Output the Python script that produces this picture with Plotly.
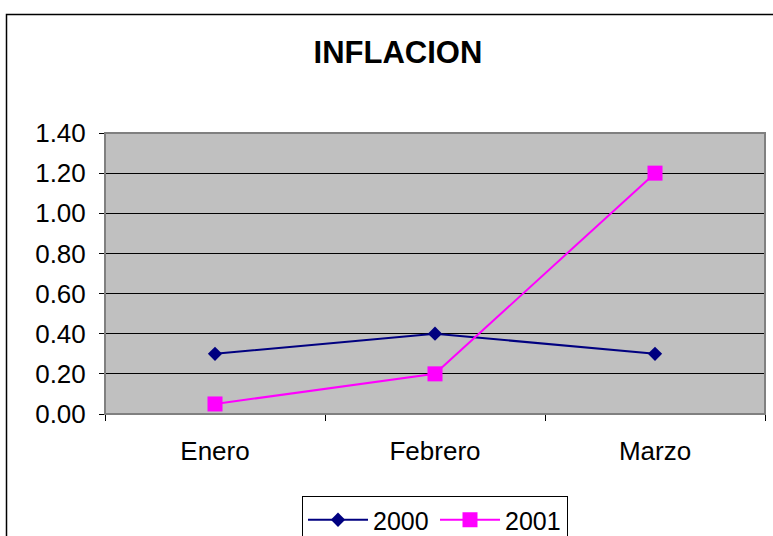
import plotly.graph_objects as go

categories = ["Enero", "Febrero", "Marzo"]
series_2000 = [0.30, 0.40, 0.30]
series_2001 = [0.05, 0.20, 1.20]
y_ticks = [0.0, 0.2, 0.4, 0.6, 0.8, 1.0, 1.2, 1.4]

W, H = 773, 536
L, R, T, B = 105, 765, 133, 414

def px_x(p):
    return (p - L) / (R - L)

def px_y(p):
    return (B - p) / (B - T)

font = "Liberation Sans, Arial, sans-serif"

fig = go.Figure()
fig.add_trace(go.Scatter(
    x=categories, y=series_2000, name="2000", mode="lines+markers",
    line=dict(color="#000080", width=2),
    marker=dict(symbol="diamond", size=11, color="#000080"),
))
fig.add_trace(go.Scatter(
    x=categories, y=series_2001, name="2001", mode="lines+markers",
    line=dict(color="#FF00FF", width=2),
    marker=dict(symbol="square", size=15, color="#FF00FF"),
))

fig.update_layout(
    width=W, height=H,
    margin=dict(l=L, r=W - R, t=T, b=H - B, pad=0, autoexpand=False),
    paper_bgcolor="white",
    plot_bgcolor="#C0C0C0",
    font=dict(family=font, size=26, color="black"),
    title=dict(text="<b>INFLACION</b>", font=dict(size=31, family=font),
               x=398 / W, xref="container", xanchor="center",
               y=1 - 52 / H, yref="container", yanchor="middle"),
    showlegend=True,
    legend=dict(orientation="h", x=0.5, xanchor="center",
                y=px_y(496), yanchor="top",
                bordercolor="black", borderwidth=1, bgcolor="white",
                font=dict(size=25, family=font), itemwidth=60,
                entrywidth=57, entrywidthmode="pixels",
                tracegroupgap=0),
    xaxis=dict(type="category", range=[-0.5, 2.5], showgrid=False,
               showline=True, linecolor="black", linewidth=1,
               ticks="outside", tickson="boundaries", ticklen=6,
               tickcolor="black", ticklabelstandoff=14, zeroline=False),
    yaxis=dict(range=[0, 1.4], tickvals=y_ticks, tickformat=".2f",
               showgrid=True, gridcolor="black", gridwidth=1,
               showline=True, linecolor="#404040", linewidth=1,
               ticks="outside", ticklen=5, tickcolor="black",
               ticklabelstandoff=8, zeroline=False),
    shapes=[
        dict(type="rect", xref="paper", yref="paper", x0=0, y0=0, x1=1, y1=1,
             line=dict(color="#808080", width=2), layer="above"),
        dict(type="rect", xref="paper", yref="paper",
             x0=px_x(6.5), y0=px_y(14.5), x1=px_x(W + 30), y1=px_y(H + 30),
             line=dict(color="black", width=1.5)),
    ],
)

fig.write_html("out.html", config={"displayModeBar": False},
               post_script="document.body.style.margin='0';")
